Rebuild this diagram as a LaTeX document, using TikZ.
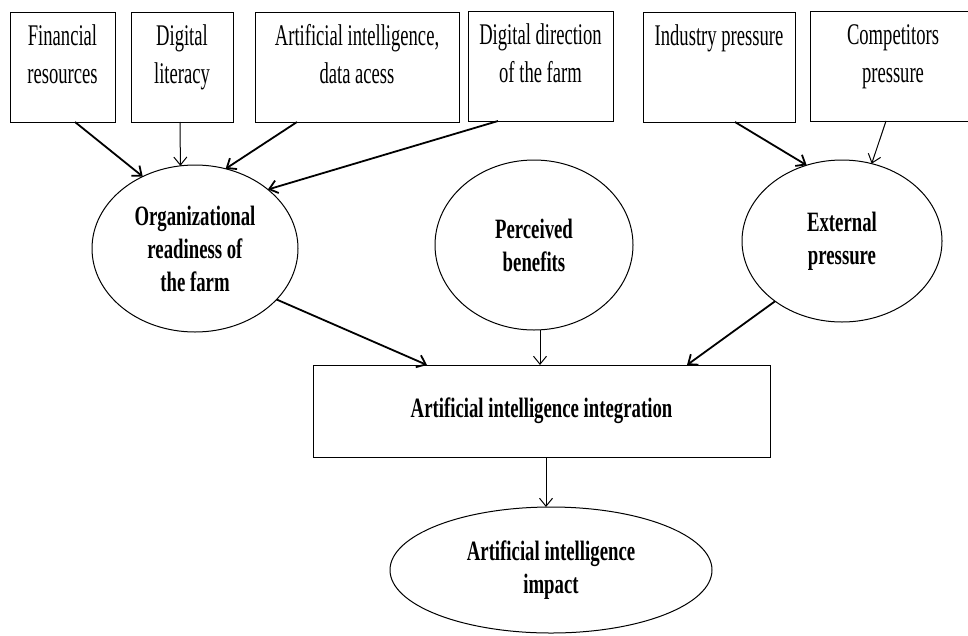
\documentclass[tikz,border=0pt]{standalone}
\usepackage{fontspec}
\setmainfont{Liberation Serif}
\newfontfamily\factorfont{Liberation Serif}[FakeStretch=0.62]
\newfontfamily\constructfont{Liberation Serif}[FakeStretch=0.67]
\usetikzlibrary{shapes.geometric,arrows.meta}

\tikzset{
    x={1pt},
    y={-1pt},
    factor/.style={
        draw, line width={1pt},
        rectangle, anchor=north,
        minimum width={#1},
        minimum height={110},
        inner sep=0pt, outer sep=0pt,
        align=center,
        text height={71pt},
        text depth={39pt},
        font={\factorfont\fontsize{30}{38}\selectfont},
    },
    single line/.style={
        text height={33pt},
        text depth={77pt},
    },
    construct/.style 2 args={
        draw, line width={1pt},
        ellipse,
        minimum width={#1},
        minimum height={#2},
        inner sep=0pt, outer sep=0pt,
        align=center,
        font={\constructfont\bfseries\fontsize{28}{33}\selectfont},
    },
    integration/.style={
        draw, line width={1pt},
        rectangle,
        minimum width={457},
        minimum height={92},
        inner sep=0pt, outer sep=0pt,
        font={\constructfont\bfseries\fontsize{28}{33}\selectfont},
    },
    influence/.style={
        draw, line width={#1},
        -{Straight Barb[length=8pt,width=13pt]},
    },
    influence/.default={1pt},
}

\begin{document}
\begin{tikzpicture}
\useasboundingbox (0,0) rectangle (968,635);
% factors
\node[factor={105}] (financial) at (62.5,12) {Financial\\resources};
\node[factor={102}] (literacy) at (182,12) {Digital\\literacy};
\node[factor={204}] (dataaccess) at (357,12) {Artificial intelligence,\\data acess};
\node[factor={145}] (direction) at (540.5,11) {Digital direction\\of the farm};
\node[factor={152}, single line] (industry) at (719,12) {Industry pressure};
\node[factor={166}] (competitors) at (893,11) {Competitors\\pressure};
% constructs
\node[construct={206}{167}] (readiness) at (195,248.5) {Organizational\\readiness of\\the farm};
\node[construct={198}{170}] (benefits) at (534,245) {Perceived\\benefits};
\node[construct={200}{162}] (external) at (842,241) {External\\pressure};
\node[integration] (aiintegration) at (541.5,411) {Artificial intelligence integration};
\node[construct={322}{126}] (impact) at (551,570) {Artificial intelligence\\impact};
% influences
\path[influence={1.8pt}] ([xshift=12.5]financial.south) -- (readiness.126);
\path[influence] ([xshift=-2]literacy.south) -- (readiness.100);
\path[influence={1.8pt}] ([xshift=-60]dataaccess.south) -- (readiness.69);
\path[influence={1.8pt}] ([xshift=-42.5]direction.south) -- (readiness.39);
\path[influence={1.8pt}] ([xshift=16]industry.south) -- (external.115);
\path[influence] ([xshift=-7]competitors.south) -- (external.69);
\path[influence={1.8pt}] (readiness.-32) -- ([xshift=-114.5]aiintegration.north);
\path[influence] ([xshift=6]benefits.south) -- ([xshift=-1.5]aiintegration.north);
\path[influence={1.8pt}] (external.222) -- ([xshift=145.5]aiintegration.north);
\path[influence] ([xshift=4.5]aiintegration.south) -- ([xshift=-5]impact.north);
\end{tikzpicture}
\end{document}
